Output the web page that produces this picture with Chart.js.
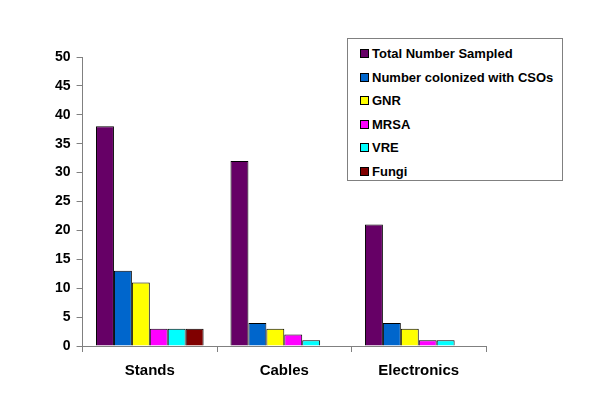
<!DOCTYPE html>
<html>
<head>
<meta charset="utf-8">
<script src="https://cdn.jsdelivr.net/npm/chart.js@4/dist/chart.umd.min.js"></script>
<style>
  html, body { margin: 0; padding: 0; background: #fff; }
  #wrap { position: relative; width: 600px; height: 400px; }
  #legend {
    position: absolute; left: 347px; top: 38px; width: 216px; height: 143px;
    border: 1px solid #808080; background: #fff; box-sizing: border-box;
    font: bold 13px "Liberation Sans", Arial, sans-serif; color: #000;
  }
  #legend .item { position: absolute; left: 12px; height: 15px; line-height: 15px; white-space: nowrap; }
  #legend .sw { display: inline-block; width: 7px; height: 7px; border: 1px solid #000; margin-right: 3px; vertical-align: 0px; }
</style>
</head>
<body>
<div id="wrap">
  <canvas id="c" width="600" height="400"></canvas>
  <div id="legend"></div>
</div>
<script>
var categories = ["Stands", "Cables", "Electronics"];
var seriesNames = ["Total Number Sampled", "Number colonized with CSOs", "GNR", "MRSA", "VRE", "Fungi"];
var totalSampled = [38, 32, 21];
var colonized = [13, 4, 4];
var gnr = [11, 3, 3];
var mrsa = [3, 2, 1];
var vre = [3, 1, 1];
var fungi = [3, null, null];
var seriesColors = ["#660066", "#0066CC", "#FFFF00", "#FF00FF", "#00FFFF", "#800000"];
var yTicks = [0, 5, 10, 15, 20, 25, 30, 35, 40, 45, 50];

var seriesValues = [totalSampled, colonized, gnr, mrsa, vre, fungi];
var datasets = seriesValues.map(function (vals, i) {
    return {
        label: seriesNames[i],
        data: vals,
        backgroundColor: seriesColors[i],
        borderColor: "#000",
        borderWidth: 1,
        borderSkipped: "bottom",
        categoryPercentage: 0.8,
        barPercentage: 1.0
    };
});

new Chart(document.getElementById("c"), {
    type: "bar",
    data: { labels: categories, datasets: datasets },
    options: {
        responsive: false,
        animation: false,
        layout: { padding: { left: 49, right: 114, top: 57, bottom: 10 } },
        plugins: { legend: { display: false }, tooltip: { enabled: false } },
        scales: {
            x: {
                grid: { offset: true, drawOnChartArea: false, drawTicks: true, tickLength: 6, color: "#808080" },
                border: { color: "#808080", width: 1 },
                ticks: { color: "#000", padding: 10, font: { family: "'Liberation Sans', Arial", size: 15, weight: "bold" } }
            },
            y: {
                min: 0, max: 50,
                afterBuildTicks: function (axis) { axis.ticks = yTicks.map(function (v) { return { value: v }; }); },
                grid: { drawOnChartArea: false, drawTicks: true, tickLength: 6, color: "#808080" },
                border: { color: "#808080", width: 1 },
                ticks: { color: "#000", padding: 6, font: { family: "'Liberation Sans', Arial", size: 14, weight: "bold" } }
            }
        }
    }
});

var legend = document.getElementById("legend");
seriesNames.forEach(function (name, i) {
    var item = document.createElement("div");
    item.className = "item";
    item.style.top = (7 + i * 23.5) + "px";
    item.innerHTML = '<span class="sw" style="background:' + seriesColors[i] + '"></span>' + name;
    legend.appendChild(item);
});
</script>
</body>
</html>
